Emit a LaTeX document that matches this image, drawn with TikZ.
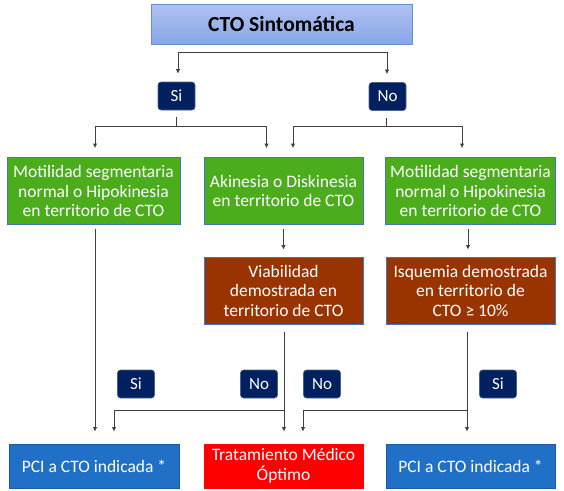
\documentclass[tikz,border=0pt]{standalone}
\usepackage{fontspec}
\setmainfont{Carlito}
\usetikzlibrary{arrows.meta,calc}
\definecolor{navy}{HTML}{002060}
\definecolor{grn}{HTML}{4CAD1C}
\definecolor{brn}{HTML}{993300}
\definecolor{blu}{HTML}{2070C8}
\definecolor{bdr}{HTML}{4472C4}
\definecolor{lin}{HTML}{404040}
\definecolor{ttop}{HTML}{AEC2F2}
\definecolor{tbot}{HTML}{88A6E6}
\begin{document}
\begin{tikzpicture}[x=1pt,y=-1pt,
  box/.style={rectangle, draw=bdr, line width=0.8pt, text=white, align=center, inner sep=0pt,
    font=\fontsize{17.5}{19.5}\selectfont},
  gbox/.style={box, fill=grn, minimum height=67pt},
  bbox/.style={box, fill=brn, minimum height=67pt},
  pbox/.style={box, fill=blu, draw=blu!80!black, minimum height=44pt},
  rbox/.style={box, fill=red, draw=red, minimum height=44pt},
  lab/.style={rectangle, rounded corners=3pt, fill=navy, draw=navy!70!white, line width=0.6pt, text=white,
    minimum width=37pt, minimum height=28pt, inner sep=0pt, font=\fontsize{17}{19}\selectfont},
  ln/.style={draw=lin, line width=0.9pt},
  arr/.style={ln, -{Latex[length=4.5pt,width=4.5pt]}},
]
\useasboundingbox (0,0) rectangle (564,490);
% title
\node[rectangle, draw=bdr!80!white, line width=0.8pt, top color=ttop, bottom color=tbot,
  minimum width=261pt, minimum height=40pt, inner sep=0pt, font=\fontsize{21.5}{24}\selectfont\bfseries]
  (title) at (281.5,24) {CTO Sintomática};
% Si / No
\node[lab] (siA) at (176.5,96) {Si};
\node[lab] (noA) at (387.5,96.5) {No};
% green
\node[gbox, minimum width=173pt] (g1) at (93.5,191) {Motilidad segmentaria\\normal o Hipokinesia\\en territorio de CTO};
\node[gbox, minimum width=159pt] (g2) at (283.5,191) {Akinesia o Diskinesia\\en territorio de CTO};
\node[gbox, minimum width=170pt] (g3) at (470.5,191) {Motilidad segmentaria\\normal o Hipokinesia\\en territorio de CTO};
% brown
\node[bbox, minimum width=159pt] (b2) at (283.5,290.5) {Viabilidad\\demostrada en\\territorio de CTO};
\node[bbox, minimum width=169pt] (b3) at (470.5,290.5) {Isquemia demostrada\\en territorio de\\CTO ≥ 10\%};
% labels
\node[lab] (l1) at (136,384) {Si};
\node[lab] (l2) at (259,384) {No};
\node[lab] (l3) at (322,384) {No};
\node[lab] (l4) at (498,384) {Si};
% outcomes
\node[pbox, minimum width=170pt] (p1) at (94,466) {PCI a CTO indicada *};
\node[rbox, minimum width=159pt] (rd) at (283.5,466) {Tratamiento Médico\\Óptimo};
\node[pbox, minimum width=169pt] (p3) at (470.5,466) {PCI a CTO indicada *};
% connectors top
\coordinate (tj) at (281.5,52);
\draw[arr, shorten >=8pt] (tj) -| ([xshift=1.5pt]siA.north);
\draw[arr, shorten >=8pt] (tj) -| ([xshift=-0.5pt]noA.north);
\coordinate (sj) at (176.5,126);
\coordinate (nj) at (386.5,126);
\draw[ln] ([yshift=-7pt]siA.south) -- (sj);
\draw[ln] ([yshift=-7pt]noA.south -| nj) -- (nj);
\draw[arr, shorten >=9pt] (sj) -| ([xshift=1.5pt]g1.north);
\draw[arr, shorten >=9pt] (sj) -| ([xshift=-17pt]g2.north);
\draw[arr, shorten >=9pt] (nj) -| ([xshift=9.5pt]g2.north);
\draw[arr, shorten >=9pt] (nj) -| ([xshift=-8.5pt]g3.north);
% green -> brown
\draw[arr, shorten <=4pt, shorten >=7pt] (g2.south) -- (b2.north);
\draw[arr, shorten <=4pt, shorten >=7pt] ([xshift=-2.5pt]g3.south) -- ([xshift=-2.5pt]b3.north);
% to outcomes
\draw[arr, shorten <=4pt, shorten >=12pt] ([xshift=1.5pt]g1.south) -- ([xshift=1pt]p1.north);
\draw[arr, shorten <=8pt, shorten >=12pt] ([xshift=0.5pt]b2.south) -- ([xshift=0.5pt]rd.north);
\draw[arr, shorten <=8pt, shorten >=12pt] ([xshift=-3.5pt]b3.south) -- ([xshift=-3.5pt]p3.north);
\coordinate (bj2) at (284,410);
\coordinate (bj3) at (467,410);
\draw[arr, shorten >=12pt] (bj2) -| ([xshift=20pt]p1.north);
\draw[arr, shorten >=12pt] (bj3) -| ([xshift=19.5pt]rd.north);
\end{tikzpicture}
\end{document}
